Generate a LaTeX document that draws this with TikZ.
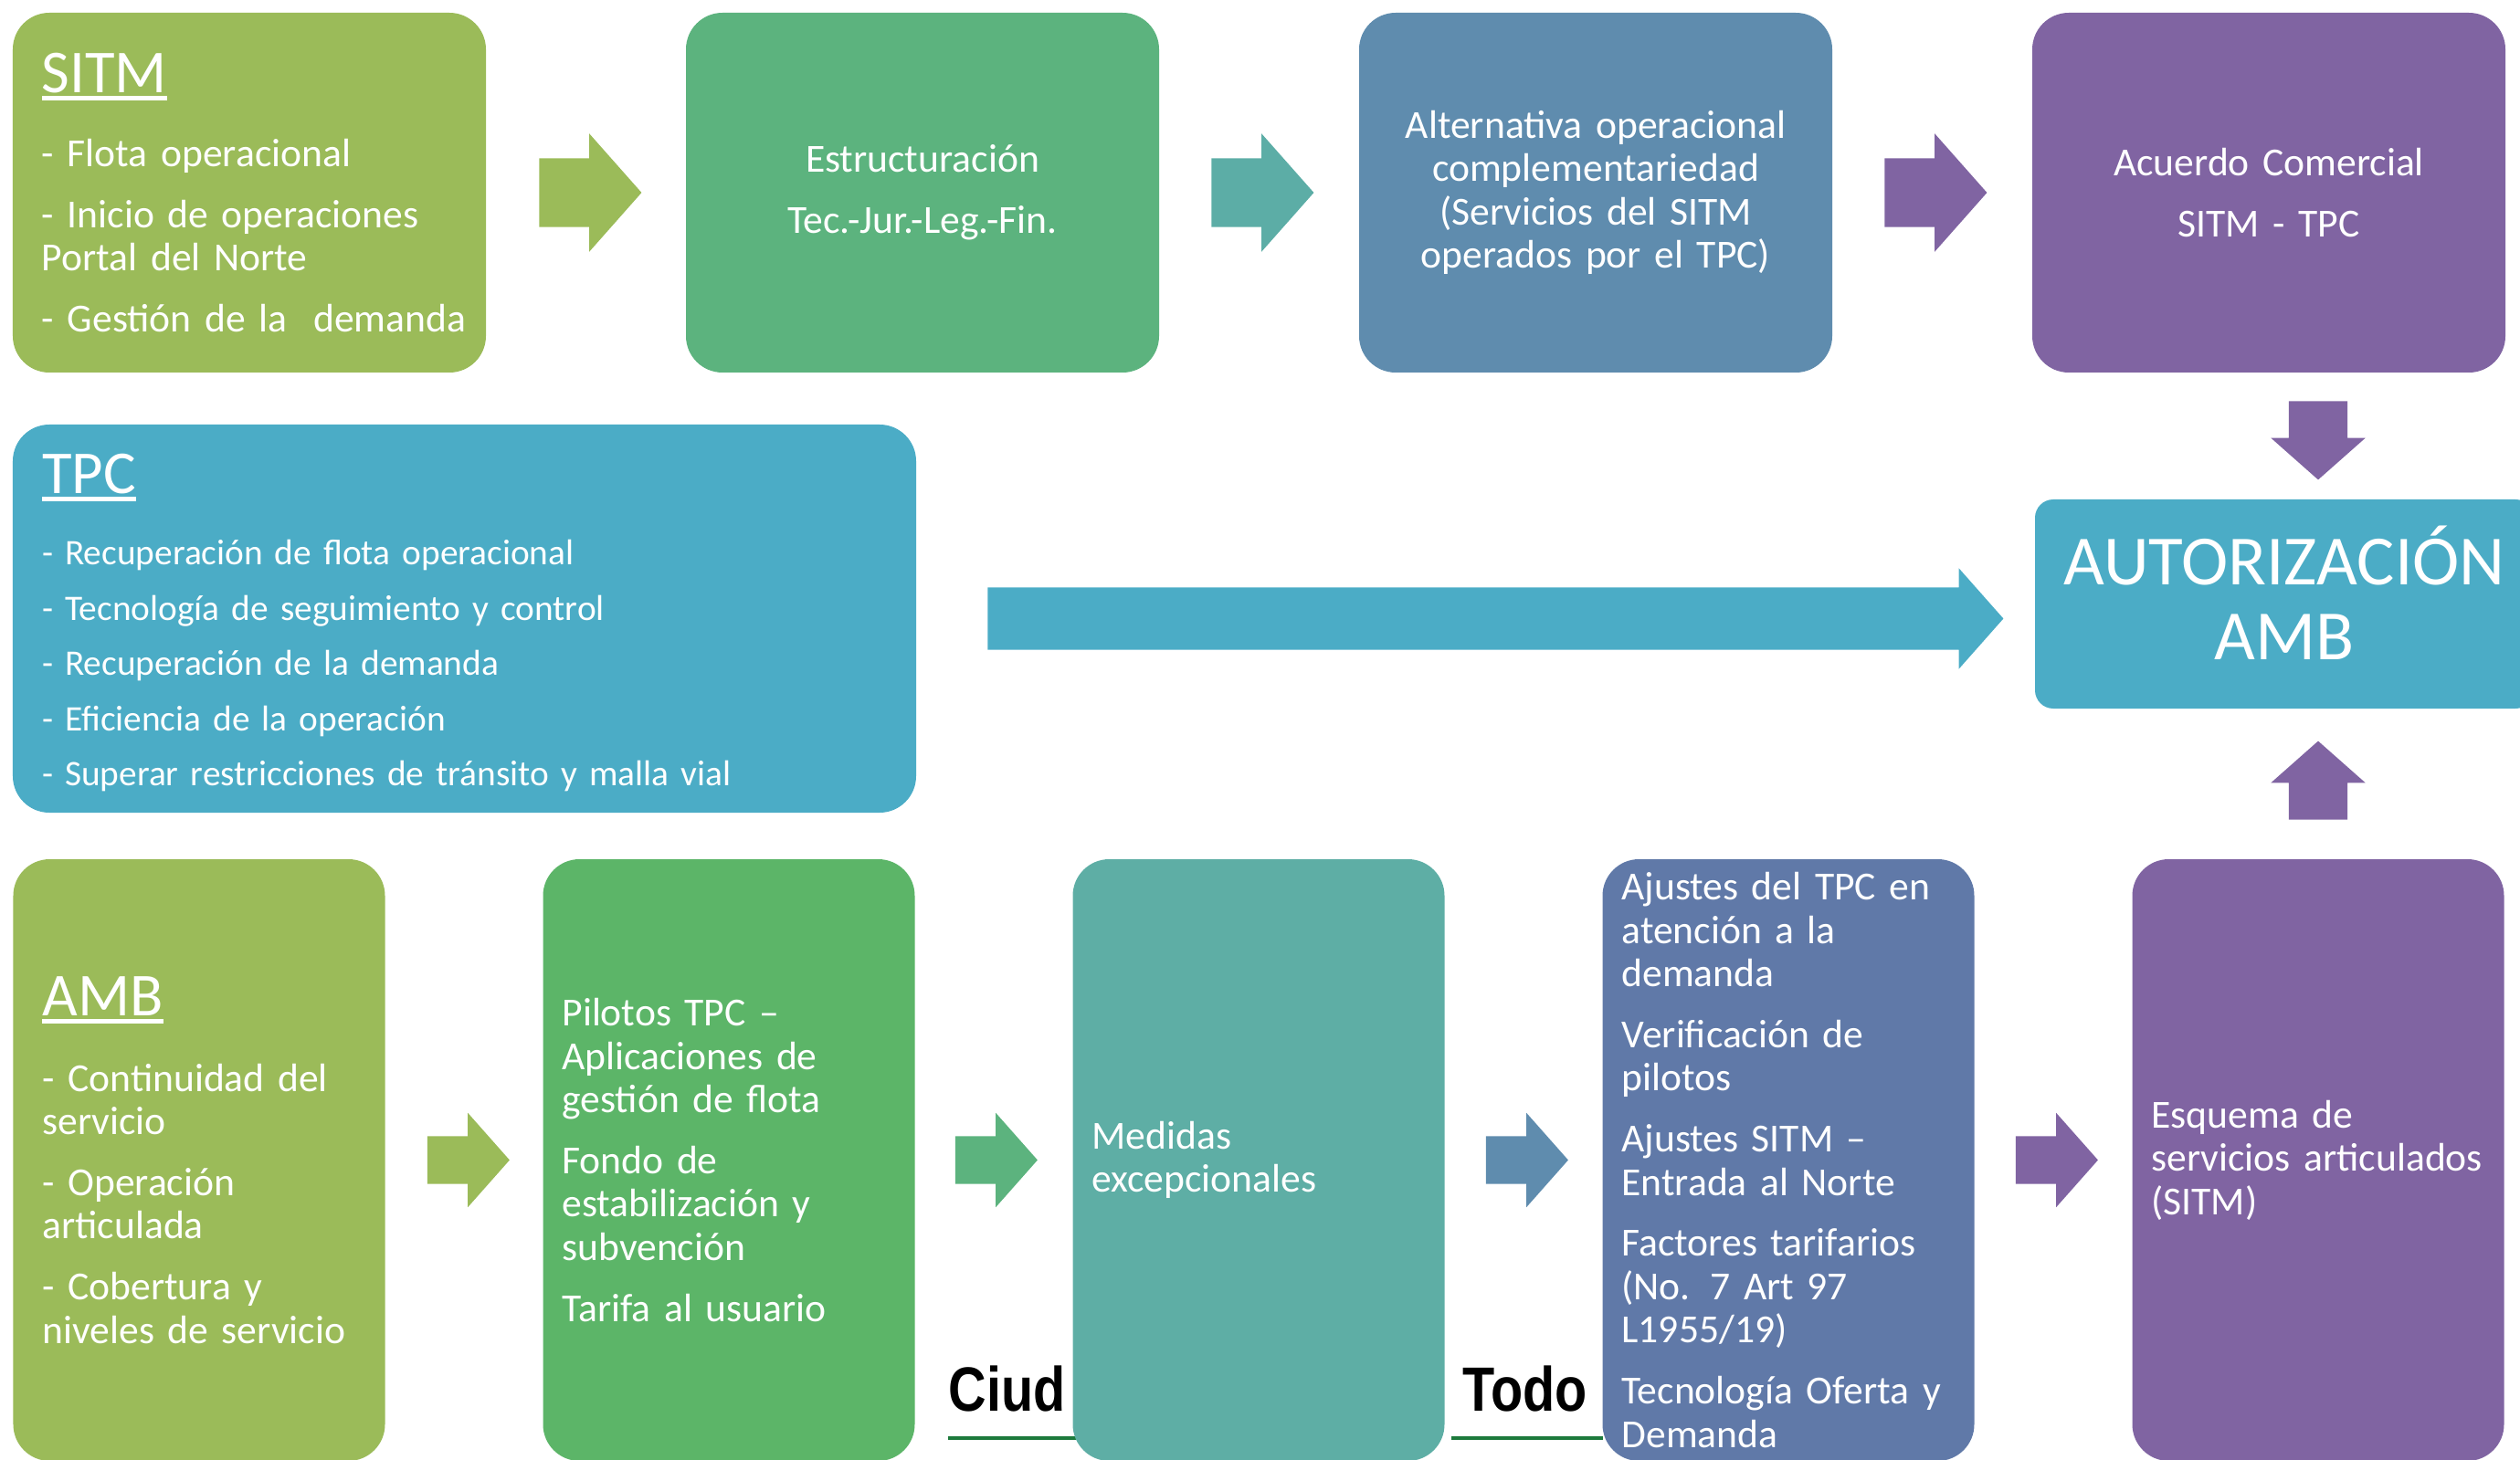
\documentclass[tikz,border=0pt]{standalone}
\usepackage{fontspec}
\setmainfont{Carlito}
\newfontfamily\logofont{Liberation Sans}
\usepackage{graphicx}
\usepackage{tikz}
\usetikzlibrary{shapes.arrows, calc}
\hyphenpenalty=10000
\exhyphenpenalty=10000
\definecolor{sitmolive}{HTML}{9BBB59}
\definecolor{estrgreen}{HTML}{5CB37E}
\definecolor{altblue}{HTML}{5F8CAE}
\definecolor{acpurple}{HTML}{8064A2}
\definecolor{tpcaqua}{HTML}{4BACC6}
\definecolor{pilgreen}{HTML}{5CB568}
\definecolor{medteal}{HTML}{5EAEA5}
\definecolor{ajblue}{HTML}{6079A8}
\definecolor{arrteal}{HTML}{5CADA6}
\definecolor{logogreen}{HTML}{1D7A3C}
\newcommand{\bodysize}{\fontsize{12.4}{13.5}\selectfont}
\newcommand{\smallbody}{\fontsize{11.2}{12.2}\selectfont}
\newsavebox{\headbox}
\newcommand{\headline}[1]{{\fontsize{19}{22}\selectfont\sbox{\headbox}{#1}\rlap{\rule[-2.4pt]{\wd\headbox}{1.4pt}}\usebox{\headbox}}}
\tikzset{
  box/.style={rounded corners=0.4cm, inner ysep=0pt, inner xsep=0.21cm, text=white, font=\bodysize},
  headbox/.style={box, inner xsep=0.32cm, align=left},
  lowbox/.style={box, align=left, minimum width=4.07cm, minimum height=6.59cm, text width=3.65cm},
  topbox/.style={box, align=center, minimum width=5.18cm, minimum height=3.94cm, text width=4.76cm},
  blockarrow/.style={single arrow, draw=none, inner xsep=0pt, single arrow tip angle=97, anchor=tail},
  toparrow/.style={blockarrow, minimum height=1.12cm, minimum width=1.28cm, inner ysep=0.37cm, single arrow head extend=0.27cm},
  botarrow/.style={blockarrow, minimum height=0.90cm, minimum width=1.02cm, inner ysep=0.255cm, single arrow head extend=0.255cm},
  vertarrow/.style={blockarrow, minimum height=0.86cm, minimum width=1.02cm, inner ysep=0pt, inner xsep=0.315cm, single arrow head extend=0.195cm},
  logoline/.style={logogreen, line width=1.4pt},
  logotext/.style={anchor=base west, inner sep=0pt, font=\logofont\bfseries\fontsize{19.5}{20}\selectfont},
}
\begin{document}
\begin{tikzpicture}
  \useasboundingbox (0,0) rectangle (27.59,15.98);

  % bits of a logo showing behind the lower boxes
  \node[logotext] (ciud) at (10.38,0.53) {\scalebox{0.84}[1]{Ciud}};
  \node[logotext] (todo) at (16.01,0.53) {\scalebox{0.84}[1]{Todo}};
  \draw[logoline] (10.38,0.23) -- (11.8,0.23);
  \draw[logoline] (15.89,0.23) -- (17.55,0.23);

  % top row
  \node[headbox, fill=sitmolive, minimum width=5.18cm, minimum height=3.94cm, text width=4.54cm] (sitm) at (2.73,13.87)
    {\headline{SITM}\\[9.5pt] - Flota operacional\\[5.5pt] - Inicio de operaciones\\ Portal del Norte\\[5.5pt] \mbox{- Gestión de la\ \ demanda}};
  \node[topbox, fill=estrgreen] (estr) at (10.10,13.87) {Estructuración\\[5.5pt] Tec.-Jur.-Leg.-Fin.};
  \node[topbox, fill=altblue] (alt) at (17.47,13.87) {Alternativa operacional\\ complementariedad\\ (Servicios del SITM\\ operados por el TPC)};
  \node[topbox, fill=acpurple] (acuerdo) at (24.84,13.87) {Acuerdo Comercial\\[5.5pt] SITM - TPC};

  \node[toparrow, fill=sitmolive] (a1) at ($(sitm.east)+(0.57,0)$) {};
  \node[toparrow, fill=arrteal] (a2) at ($(estr.east)+(0.56,0)$) {};
  \node[toparrow, fill=acpurple] (a3) at ($(alt.east)+(0.56,0)$) {};

  % middle row
  \node[headbox, fill=tpcaqua, font=\smallbody, minimum width=9.89cm, minimum height=4.25cm, text width=9.25cm] (tpc) at (5.085,9.205)
    {\rule{0pt}{15pt}\headline{TPC}\\[10pt] - Recuperación de flota operacional\\[5pt] - Tecnología de seguimiento y control\\[5pt] - Recuperación de la demanda\\[5pt] - Eficiencia de la operación\\[5pt] - Superar restricciones de tránsito y malla vial};
  \node[box, fill=tpcaqua, rounded corners=0.2cm, align=center, inner xsep=0.1cm, font=\fontsize{22}{23.6}\selectfont,
    minimum width=5.46cm, minimum height=2.29cm, text width=5.26cm] (aut) at (25.01,9.365) {AUTORIZACIÓN\\ AMB\rule[-7pt]{0pt}{0pt}};
  \node[blockarrow, fill=tpcaqua, minimum height=11.12cm, minimum width=1.09cm, inner ysep=0.335cm,
    single arrow head extend=0.21cm] (a4) at ($(tpc.east)+(0.77,0)$) {};

  % bottom row
  \node[lowbox, fill=sitmolive, inner xsep=0.32cm, text width=3.43cm] (amb) at (2.18,3.275)
    {\headline{AMB}\\[10pt] - Continuidad del\\ servicio\\[5.5pt] - Operación\\ articulada\\[5.5pt] - Cobertura y\\ niveles de servicio};
  \node[lowbox, fill=pilgreen] (pilotos) at (7.98,3.275)
    {Pilotos TPC --\\ Aplicaciones de\\ gestión de flota\\[5.5pt] Fondo de\\ estabilización y\\ subvención\\[5.5pt] Tarifa al usuario};
  \node[lowbox, fill=medteal] (medidas) at (13.78,3.275) {Medidas\\ excepcionales};
  \node[lowbox, fill=ajblue] (ajustes) at (19.58,3.275)
    {Ajustes del TPC en\\ atención a la\\ demanda\\[5.5pt] Verificación de\\ pilotos\\[5.5pt] Ajustes SITM --\\ Entrada al Norte\\[5.5pt] Factores tarifarios\\ (No. 7 Art 97\\ L1955/19)\\[5.5pt] Tecnología Oferta y\\ Demanda};
  \node[lowbox, fill=acpurple] (esquema) at (25.38,3.275) {Esquema de\\ servicios articulados\\ (SITM)};

  \node[botarrow, fill=sitmolive] (a5) at ($(amb.east)+(0.45,0)$) {};
  \node[botarrow, fill=estrgreen] (a6) at ($(pilotos.east)+(0.43,0)$) {};
  \node[botarrow, fill=altblue] (a7) at ($(medidas.east)+(0.44,0)$) {};
  \node[botarrow, fill=acpurple] (a8) at ($(ajustes.east)+(0.44,0)$) {};

  % arrows into the authorisation box
  \coordinate (dn) at ($(acuerdo.south)+(0,-0.30)$);
  \coordinate (up) at ($(esquema.north)+(0,0.42)$);
  \node[vertarrow, fill=acpurple, shape border rotate=270] (a9) at (dn -| esquema) {};
  \node[vertarrow, fill=acpurple, shape border rotate=90] (a10) at (up -| esquema) {};
\end{tikzpicture}
\end{document}
